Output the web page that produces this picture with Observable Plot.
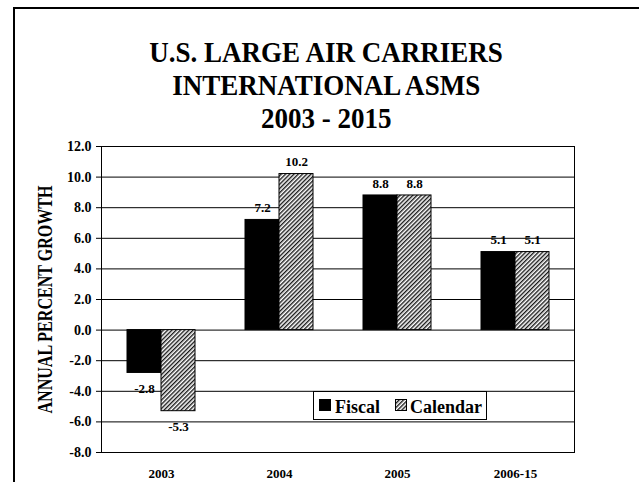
<!DOCTYPE html>
<html>
<head>
<meta charset="utf-8">
<script src="https://cdn.jsdelivr.net/npm/d3@7"></script>
<script src="https://cdn.jsdelivr.net/npm/@observablehq/plot@0.6"></script>
<style>
html, body { margin: 0; padding: 0; background: #fff; }
body { width: 639px; height: 482px; position: relative; overflow: hidden;
  font-family: "Liberation Serif", "Times New Roman", serif; color: #000; }
#border { position: absolute; left: 13px; top: 7px; right: -10px; bottom: -10px;
  border-top: 2px solid #000; border-left: 2px solid #000; pointer-events: none; z-index: 5; }
.tl { position: absolute; left: 0; width: 652px; height: 32px; text-align: center; font-weight: bold;
  font-size: 29.5px; line-height: 32px; white-space: nowrap; }
.tl span { display: inline-block; line-height: 32px; transform: scaleX(0.916); transform-origin: 50% 50%; }
#chart { position: absolute; left: 0; top: 132px; width: 639px; height: 350px; }
#legend { position: absolute; left: 313px; top: 391px; width: 174px; height: 29px;
  box-sizing: border-box; border: 1px solid #000; background: #fff; z-index: 4; }
#legend .sw { position: absolute; top: 7px; width: 12px; height: 12px; }
#legend .lt { position: absolute; top: 6px; font-size: 18px; line-height: 18px; font-weight: bold; white-space: nowrap; }
</style>
</head>
<body>
<div id="title">
  <div class="tl" style="top:35.5px"><span>U.S. LARGE AIR CARRIERS</span></div>
  <div class="tl" style="top:68.5px"><span>INTERNATIONAL ASMS</span></div>
  <div class="tl" style="top:101.5px"><span>2003 - 2015</span></div>
</div>
<div id="chart"></div>
<div id="legend">
  <svg class="sw" style="left:5px" width="12" height="12"><rect x="0.5" y="0.5" width="11" height="11" fill="#000" stroke="#000"/></svg>
  <span class="lt" style="left:21px">Fiscal</span>
  <svg class="sw" style="left:81px" width="12" height="12">
    <defs><pattern id="hatchL" patternUnits="userSpaceOnUse" width="3" height="3" patternTransform="rotate(45)"><rect width="3" height="3" fill="#fff"/><rect width="1.4" height="3" fill="#1a1a1a"/></pattern></defs>
    <rect x="0.5" y="0.5" width="11" height="11" fill="url(#hatchL)" stroke="#000"/></svg>
  <span class="lt" style="left:96px">Calendar</span>
</div>
<div id="border"></div>
<script>
// ---- data ----
const categories = ["2003", "2004", "2005", "2006-15"];
const seriesNames = ["Fiscal", "Calendar"];
const fiscal = [-2.8, 7.2, 8.8, 5.1];
const calendar = [-5.3, 10.2, 8.8, 5.1];
const yTicks = [-8, -6, -4, -2, 0, 2, 4, 6, 8, 10, 12];
const yLabel = "ANNUAL PERCENT GROWTH";

const fiscalRows = categories.map((c, i) => ({category: c, series: seriesNames[0], value: fiscal[i]}));
const calendarRows = categories.map((c, i) => ({category: c, series: seriesNames[1], value: calendar[i]}));

const fontFamily = '"Liberation Serif", "Times New Roman", serif';
const fmt = d => d.toFixed(1);

function valueLabels(rows, dx) {
  return [
    Plot.text(rows, {filter: d => d.value >= 0, x: "category", y: "value", text: d => fmt(d.value),
      dx, dy: -12, fontSize: 13, fontWeight: "bold", fill: "black"}),
    Plot.text(rows, {filter: d => d.value < 0, x: "category", y: "value", text: d => fmt(d.value),
      dx, dy: 15.5, fontSize: 13, fontWeight: "bold", fill: "black"})
  ];
}

const plot = Plot.plot({
  width: 639,
  height: 350,
  marginTop: 14,
  marginBottom: 30,
  marginLeft: 101,
  marginRight: 65,
  style: {fontFamily, fontWeight: "bold", background: "transparent", color: "black", overflow: "visible"},
  x: {type: "band", domain: categories, padding: 0, label: null},
  y: {domain: [-8, 12], label: null},
  marks: [
    Plot.ruleY(yTicks, {stroke: "black", strokeWidth: 1}),
    Plot.barY(fiscalRows, {x: "category", y: "value", fill: "black", stroke: "black", strokeWidth: 1,
      insetLeft: 25, insetRight: 59}),
    Plot.barY(calendarRows, {x: "category", y: "value", fill: "url(#hatch)", stroke: "black", strokeWidth: 1,
      insetLeft: 59, insetRight: 25}),
    Plot.frame({stroke: "black"}),
    Plot.axisY({ticks: yTicks, tickFormat: fmt, tickSize: 5, tickPadding: 5, fontSize: 14, label: null}),
    Plot.axisX({tickSize: 0, tickPadding: 16, fontSize: 13, label: null}),
    ...valueLabels(fiscalRows, -17),
    ...valueLabels(calendarRows, 17),
    Plot.text([yLabel], {text: d => d, frameAnchor: "left", textAnchor: "middle", lineAnchor: "middle",
      dx: -56, rotate: -90, fontSize: 20, fontWeight: "bold", fill: "black"})
  ]
});

const svg = d3.select(plot);
svg.insert("defs", ":first-child").html(
  '<pattern id="hatch" patternUnits="userSpaceOnUse" width="3" height="3" patternTransform="rotate(45)">' +
  '<rect width="3" height="3" fill="#fff"/><rect width="1.4" height="3" fill="#1a1a1a"/></pattern>'
);
svg.selectAll("text")
  .filter(function () { return this.textContent === yLabel; })
  .attr("textLength", 228)
  .attr("lengthAdjust", "spacingAndGlyphs");

document.getElementById("chart").appendChild(plot);
</script>
</body>
</html>
